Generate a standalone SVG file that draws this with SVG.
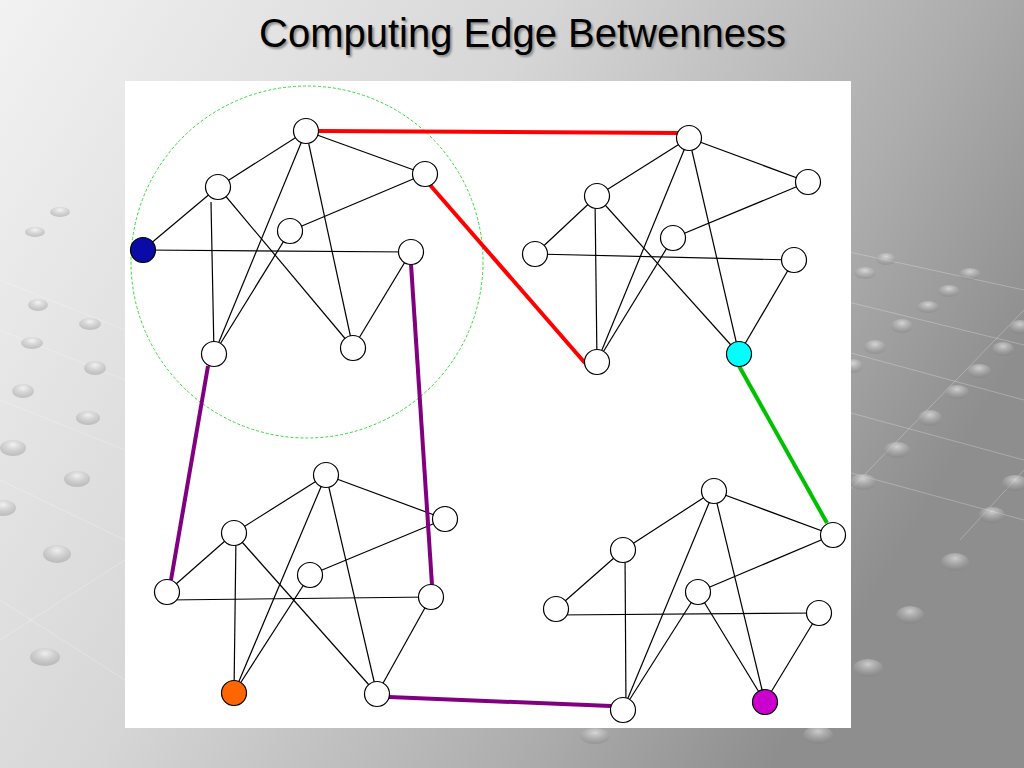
<svg xmlns="http://www.w3.org/2000/svg" width="1024" height="768" viewBox="0 0 1024 768">
<defs>
<linearGradient id="bg" x1="0" y1="0" x2="1" y2="0.45">
<stop offset="0" stop-color="#f2f2f2"/>
<stop offset="0.45" stop-color="#d6d6d6"/>
<stop offset="0.8" stop-color="#acacac"/>
<stop offset="1" stop-color="#8e8e8e"/>
</linearGradient>
<radialGradient id="dot" cx="0.5" cy="0.3" r="0.7">
<stop offset="0" stop-color="#ffffff" stop-opacity="0.55"/>
<stop offset="1" stop-color="#7a7a7a" stop-opacity="0.35"/>
</radialGradient>
<filter id="sh" x="-5%" y="-20%" width="110%" height="140%">
<feGaussianBlur stdDeviation="1"/>
</filter>
</defs>
<style>
.bgl{stroke:#ffffff;stroke-opacity:0.25;stroke-width:1;fill:none}
.d{fill:url(#dot)}
.e{stroke:#000;stroke-width:1.2;fill:none}
.n{fill:#fff;stroke:#000;stroke-width:1.2}
.red{stroke:#ff0000;stroke-width:4;fill:none}
.pur{stroke:#800080;stroke-width:4;fill:none}
.grn{stroke:#00c000;stroke-width:4;fill:none}
.title{font-family:"Liberation Sans",Arial,sans-serif;font-size:40px}
</style>
<g id="background">
<rect x="0" y="0" width="1024" height="768" fill="url(#bg)"/>
<g class="bgl">
<line x1="840" y1="250" x2="1024" y2="290"/>
<line x1="840" y1="300" x2="1024" y2="345"/>
<line x1="840" y1="350" x2="1024" y2="400"/>
<line x1="840" y1="410" x2="1024" y2="460"/>
<line x1="840" y1="470" x2="1024" y2="520"/>
<line x1="1024" y1="310" x2="840" y2="500"/>
<line x1="1024" y1="470" x2="960" y2="540"/>
<line x1="0" y1="280" x2="125" y2="330"/>
<line x1="0" y1="330" x2="125" y2="380"/>
<line x1="0" y1="400" x2="125" y2="450"/>
<line x1="0" y1="480" x2="125" y2="540"/>
<line x1="0" y1="600" x2="125" y2="680"/>
<line x1="125" y1="560" x2="0" y2="640"/>
</g>
<ellipse class="d" cx="886" cy="259" rx="10" ry="6"/>
<ellipse class="d" cx="865" cy="273" rx="11" ry="6"/>
<ellipse class="d" cx="970" cy="274" rx="11" ry="6"/>
<ellipse class="d" cx="949" cy="291" rx="11" ry="6"/>
<ellipse class="d" cx="928" cy="307" rx="11" ry="6"/>
<ellipse class="d" cx="902" cy="326" rx="11" ry="7"/>
<ellipse class="d" cx="875" cy="347" rx="11" ry="7"/>
<ellipse class="d" cx="853" cy="366" rx="10" ry="7"/>
<ellipse class="d" cx="1020" cy="327" rx="11" ry="7"/>
<ellipse class="d" cx="1003" cy="349" rx="11" ry="7"/>
<ellipse class="d" cx="979" cy="371" rx="12" ry="7"/>
<ellipse class="d" cx="957" cy="392" rx="12" ry="7"/>
<ellipse class="d" cx="930" cy="418" rx="12" ry="8"/>
<ellipse class="d" cx="897" cy="450" rx="13" ry="8"/>
<ellipse class="d" cx="863" cy="482" rx="13" ry="8"/>
<ellipse class="d" cx="1015" cy="483" rx="13" ry="8"/>
<ellipse class="d" cx="992" cy="515" rx="13" ry="8"/>
<ellipse class="d" cx="955" cy="562" rx="14" ry="9"/>
<ellipse class="d" cx="910" cy="615" rx="14" ry="9"/>
<ellipse class="d" cx="868" cy="668" rx="15" ry="9"/>
<ellipse class="d" cx="818" cy="735" rx="15" ry="9"/>
<ellipse class="d" cx="595" cy="736" rx="15" ry="8"/>
<ellipse class="d" cx="38" cy="305" rx="10" ry="6"/>
<ellipse class="d" cx="90" cy="324" rx="11" ry="6"/>
<ellipse class="d" cx="32" cy="343" rx="11" ry="6"/>
<ellipse class="d" cx="95" cy="368" rx="11" ry="7"/>
<ellipse class="d" cx="23" cy="391" rx="11" ry="7"/>
<ellipse class="d" cx="88" cy="418" rx="12" ry="7"/>
<ellipse class="d" cx="13" cy="448" rx="13" ry="8"/>
<ellipse class="d" cx="77" cy="479" rx="13" ry="8"/>
<ellipse class="d" cx="3" cy="508" rx="13" ry="8"/>
<ellipse class="d" cx="57" cy="554" rx="14" ry="9"/>
<ellipse class="d" cx="45" cy="657" rx="15" ry="9"/>
<ellipse class="d" cx="60" cy="212" rx="10" ry="5"/>
<ellipse class="d" cx="35" cy="232" rx="10" ry="5"/>
</g>
<g id="title">
<text class="title" x="261" y="48.5" fill="#8a8a8a" filter="url(#sh)">Computing Edge Betwenness</text>
<text class="title" x="259" y="47" fill="#000">Computing Edge Betwenness</text>
</g>
<rect id="panel" x="125" y="81" width="726" height="647" fill="#fff"/>
<circle id="community" cx="307" cy="262" r="176" fill="none" stroke="#33dd33" stroke-width="1" stroke-dasharray="3,2"/>
<g id="connectors">
<g class="e">
<line x1="306" y1="131" x2="218" y2="187"/>
<line x1="306" y1="131" x2="425" y2="174"/>
<line x1="306" y1="131" x2="214" y2="354"/>
<line x1="306" y1="131" x2="353" y2="348"/>
<line x1="218" y1="187" x2="143" y2="250"/>
<line x1="211" y1="202" x2="214" y2="354"/>
<line x1="218" y1="187" x2="353" y2="348"/>
<line x1="425" y1="174" x2="290" y2="231"/>
<line x1="290" y1="231" x2="214" y2="354"/>
<line x1="143" y1="250" x2="411" y2="252"/>
<line x1="411" y1="252" x2="353" y2="348"/>
<line x1="689" y1="138" x2="597" y2="196"/>
<line x1="689" y1="138" x2="808" y2="182"/>
<line x1="689" y1="138" x2="597" y2="362"/>
<line x1="689" y1="138" x2="739" y2="354"/>
<line x1="597" y1="196" x2="535" y2="254"/>
<line x1="595" y1="198" x2="597" y2="362"/>
<line x1="597" y1="196" x2="739" y2="354"/>
<line x1="808" y1="182" x2="673" y2="238"/>
<line x1="673" y1="238" x2="597" y2="362"/>
<line x1="535" y1="254" x2="794" y2="260"/>
<line x1="794" y1="260" x2="739" y2="354"/>
<line x1="326" y1="475" x2="234" y2="533"/>
<line x1="326" y1="475" x2="445" y2="519"/>
<line x1="326" y1="475" x2="234" y2="693"/>
<line x1="326" y1="475" x2="377" y2="694"/>
<line x1="234" y1="533" x2="167" y2="592"/>
<line x1="236" y1="535" x2="234" y2="693"/>
<line x1="234" y1="533" x2="377" y2="694"/>
<line x1="445" y1="519" x2="310" y2="575"/>
<line x1="310" y1="575" x2="234" y2="693"/>
<line x1="167" y1="600" x2="431" y2="597"/>
<line x1="431" y1="597" x2="377" y2="694"/>
<line x1="714" y1="491" x2="623" y2="550"/>
<line x1="714" y1="491" x2="833" y2="535"/>
<line x1="714" y1="491" x2="623" y2="710"/>
<line x1="714" y1="491" x2="765" y2="702"/>
<line x1="623" y1="550" x2="556" y2="609"/>
<line x1="625" y1="552" x2="626" y2="710"/>
<line x1="833" y1="535" x2="698" y2="592"/>
<line x1="698" y1="592" x2="623" y2="710"/>
<line x1="698" y1="592" x2="765" y2="702"/>
<line x1="556" y1="615" x2="819" y2="613"/>
<line x1="819" y1="613" x2="765" y2="702"/>
</g>
<line class="red" x1="318" y1="131" x2="680" y2="133"/>
<line class="red" x1="430" y1="185" x2="585" y2="363"/>
<line class="pur" x1="208" y1="366" x2="171" y2="580"/>
<line class="pur" x1="411" y1="264" x2="432" y2="585"/>
<line class="pur" x1="389" y1="697" x2="611" y2="706"/>
<line class="grn" x1="739" y1="366" x2="827" y2="523"/>
</g>
<g id="cluster-top-left">
<circle id="tl-a" class="n" cx="306" cy="131" r="12.5"/>
<circle id="tl-b" class="n" cx="218" cy="187" r="12.5"/>
<circle id="tl-c" class="n" cx="425" cy="174" r="12.5"/>
<circle id="tl-d" class="n" cx="290" cy="231" r="12.5"/>
<circle id="tl-e" class="n" cx="143" cy="250" r="12.5" style="fill:#0a0aa6"/>
<circle id="tl-f" class="n" cx="411" cy="252" r="12.5"/>
<circle id="tl-g" class="n" cx="214" cy="354" r="12.5"/>
<circle id="tl-h" class="n" cx="353" cy="348" r="12.5"/>
</g>
<g id="cluster-top-right">
<circle id="tr-a" class="n" cx="689" cy="138" r="12.5"/>
<circle id="tr-b" class="n" cx="597" cy="196" r="12.5"/>
<circle id="tr-c" class="n" cx="808" cy="182" r="12.5"/>
<circle id="tr-d" class="n" cx="673" cy="238" r="12.5"/>
<circle id="tr-e" class="n" cx="535" cy="254" r="12.5"/>
<circle id="tr-f" class="n" cx="794" cy="260" r="12.5"/>
<circle id="tr-g" class="n" cx="597" cy="362" r="12.5"/>
<circle id="tr-h" class="n" cx="739" cy="354" r="12.5" style="fill:#00ffff"/>
</g>
<g id="cluster-bottom-left">
<circle id="bl-a" class="n" cx="326" cy="475" r="12.5"/>
<circle id="bl-b" class="n" cx="234" cy="533" r="12.5"/>
<circle id="bl-c" class="n" cx="445" cy="519" r="12.5"/>
<circle id="bl-d" class="n" cx="310" cy="575" r="12.5"/>
<circle id="bl-e" class="n" cx="167" cy="592" r="12.5"/>
<circle id="bl-f" class="n" cx="431" cy="597" r="12.5"/>
<circle id="bl-g" class="n" cx="234" cy="693" r="12.5" style="fill:#ff6600"/>
<circle id="bl-h" class="n" cx="377" cy="694" r="12.5"/>
</g>
<g id="cluster-bottom-right">
<circle id="br-a" class="n" cx="714" cy="491" r="12.5"/>
<circle id="br-b" class="n" cx="623" cy="550" r="12.5"/>
<circle id="br-c" class="n" cx="833" cy="535" r="12.5"/>
<circle id="br-d" class="n" cx="698" cy="592" r="12.5"/>
<circle id="br-e" class="n" cx="556" cy="609" r="12.5"/>
<circle id="br-f" class="n" cx="819" cy="613" r="12.5"/>
<circle id="br-g" class="n" cx="623" cy="710" r="12.5"/>
<circle id="br-h" class="n" cx="765" cy="702" r="12.5" style="fill:#cc00cc"/>
</g>
</svg>
